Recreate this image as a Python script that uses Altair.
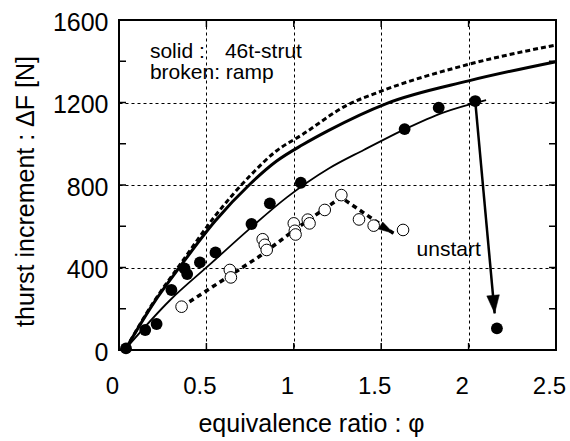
import altair as alt
import pandas as pd

# axis ticks
x_ticks = [0, 0.5, 1, 1.5, 2, 2.5]
y_ticks = [0, 400, 800, 1200, 1600]
x_inner_ticks = [0.5, 1, 1.5, 2]
y_inner_ticks = [200, 400, 600, 800, 1000, 1200, 1400]

# theoretical thrust curves
strut_phi = [0.04, 0.2, 0.35, 0.55, 0.75, 0.9, 1.05, 1.2, 1.53, 2.0, 2.5]
strut_F = [8, 230, 405, 625, 805, 915, 995, 1065, 1195, 1305, 1398]
ramp_phi = [0.04, 0.2, 0.35, 0.55, 0.75, 0.9, 1.05, 1.3, 1.5, 2.0, 2.5]
ramp_F = [8, 235, 415, 650, 845, 965, 1045, 1185, 1255, 1385, 1479]

# measured thrust, 46t-strut
strut_meas_phi = [0.04, 0.15, 0.215, 0.30, 0.375, 0.39, 0.463, 0.552, 0.758,
                  0.863, 1.04, 1.634, 1.829, 2.038, 2.162]
strut_meas_F = [8, 97, 126, 291, 395, 368, 425, 473, 611,
                711, 811, 1071, 1175, 1207, 105]

# fitted curve through the strut measurements
fit_phi = [0.04, 0.29, 0.52, 0.75, 0.96, 1.2, 1.4, 1.634, 1.85, 2.1]
fit_F = [8, 240, 415, 590, 740, 880, 970, 1070, 1150, 1212]

# measured thrust, ramp
ramp_meas_phi = [0.358, 0.634, 0.64, 0.822, 0.834, 0.845, 1.0, 1.006, 1.01,
                 1.08, 1.09, 1.177, 1.272, 1.373, 1.457, 1.625]
ramp_meas_F = [210, 388, 352, 537, 510, 485, 614, 578, 560,
               632, 614, 679, 751, 633, 603, 582]

# ramp trend, ending in an arrow
trend_phi = [0.36, 0.80, 1.03, 1.27, 1.57]
trend_F = [210, 452, 598, 740, 566]

# jump to unstart
unstart_phi = [2.038, 2.149]
unstart_F = [1207, 178]

W, H = 437, 330
FONT = "Liberation Sans"

x_enc = alt.X(
    "phi:Q",
    scale=alt.Scale(domain=[0, 2.5], nice=False, zero=False),
    axis=alt.Axis(
        values=x_ticks, format="~g", grid=True, ticks=False, tickSize=0,
        domain=False, labelPadding=24, labelOffset=-7, labelFontSize=24,
        labelBaseline="top", labelFlush=False,
        title="equivalence ratio : φ", titleFontSize=25, titleFontWeight="normal",
        titleX=192, titleY=81, titleAlign="center", titleBaseline="alphabetic",
    ),
)
y_enc = alt.Y(
    "F:Q",
    scale=alt.Scale(domain=[0, 1600], nice=False, zero=True),
    axis=alt.Axis(
        values=y_ticks, format="d", grid=True, ticks=False, tickSize=0,
        domain=False, labelPadding=11, labelFontSize=25, labelOffset=2,
        labelFlush=False,
        title="thurst increment : ΔF [N]", titleFontSize=25, titleFontWeight="normal",
        titleAngle=270, titleX=-94, titleY=171, titleAlign="center",
        titleBaseline="middle",
    ),
)


def frame(phi, F):
    return pd.DataFrame({"phi": phi, "F": F})


strut_line = alt.Chart(frame(strut_phi, strut_F)).mark_line(
    color="black", strokeWidth=3, interpolate="monotone"
).encode(x=x_enc, y=y_enc)

ramp_line = alt.Chart(frame(ramp_phi, ramp_F)).mark_line(
    color="black", strokeWidth=3, strokeDash=[5, 3], interpolate="monotone"
).encode(x=x_enc, y=y_enc)

fit_line = alt.Chart(frame(fit_phi, fit_F)).mark_line(
    color="black", strokeWidth=1.8, interpolate="monotone"
).encode(x=x_enc, y=y_enc)

trend_line = alt.Chart(frame(trend_phi, trend_F)).mark_line(
    color="black", strokeWidth=3.5, strokeDash=[5, 4]
).encode(x=x_enc, y=y_enc)

unstart_line = alt.Chart(frame(unstart_phi, unstart_F)).mark_line(
    color="black", strokeWidth=2.5
).encode(x=x_enc, y=y_enc)

trend_head = alt.Chart(frame(trend_phi[-1:], trend_F[-1:])).mark_point(
    shape="M0,0L0.55,2L-0.55,2Z", size=225, angle=121,
    filled=True, fill="black", stroke="black", strokeWidth=0.5, opacity=1
).encode(x=x_enc, y=y_enc)

unstart_head = alt.Chart(frame(unstart_phi[-1:], unstart_F[-1:])).mark_point(
    shape="M0,0L0.7,2L-0.7,2Z", size=324, angle=175,
    filled=True, fill="black", stroke="black", strokeWidth=0.5, opacity=1
).encode(x=x_enc, y=y_enc)

ramp_pts = alt.Chart(frame(ramp_meas_phi, ramp_meas_F)).mark_circle(
    size=135, fill="white", stroke="black", strokeWidth=1, opacity=1
).encode(x=x_enc, y=y_enc)

strut_pts = alt.Chart(frame(strut_meas_phi, strut_meas_F)).mark_circle(
    size=140, color="black", opacity=1
).encode(x=x_enc, y=y_enc)

# inward ticks on all four sides
left_ticks = alt.Chart(pd.DataFrame({"F": y_inner_ticks})).mark_rule(
    color="black", strokeWidth=1.5
).encode(y=y_enc, x=alt.value(0), x2=alt.value(7))
right_ticks = alt.Chart(pd.DataFrame({"F": y_inner_ticks})).mark_rule(
    color="black", strokeWidth=1.5
).encode(y=y_enc, x=alt.value(W - 7), x2=alt.value(W))
bottom_ticks = alt.Chart(pd.DataFrame({"phi": x_inner_ticks})).mark_rule(
    color="black", strokeWidth=1.5
).encode(x=x_enc, y=alt.value(H - 7), y2=alt.value(H))
top_ticks = alt.Chart(pd.DataFrame({"phi": x_inner_ticks})).mark_rule(
    color="black", strokeWidth=1.5
).encode(x=x_enc, y=alt.value(0), y2=alt.value(7))

# annotations
notes = pd.DataFrame({
    "phi": [0.177, 0.606, 0.177, 1.886],
    "F": [1446, 1446, 1341, 485],
    "label": ["solid :", "46t-strut", "broken: ramp", "unstart"],
})
note_text = alt.Chart(notes.iloc[:3]).mark_text(
    font=FONT, fontSize=21, align="left", baseline="middle", color="black"
).encode(x=x_enc, y=y_enc, text="label:N")
unstart_text = alt.Chart(notes.iloc[3:]).mark_text(
    font=FONT, fontSize=21, align="center", baseline="middle", color="black"
).encode(x=x_enc, y=y_enc, text="label:N")

chart = alt.layer(
    left_ticks, right_ticks, bottom_ticks, top_ticks,
    ramp_line, strut_line, fit_line, trend_line, unstart_line,
    ramp_pts, strut_pts, trend_head, unstart_head,
    note_text, unstart_text,
).properties(
    width=W, height=H,
    autosize=alt.AutoSizeParams(type="none"),
    padding={"left": 119, "top": 20, "right": 14, "bottom": 91},
    background="white",
).configure_view(
    stroke="black", strokeWidth=2
).configure_axis(
    gridColor="black", gridDash=[3, 3], gridWidth=1, gridOpacity=1,
    labelFont=FONT, titleFont=FONT, labelColor="black", titleColor="black",
)

chart.save("out.html", embed_options={"renderer": "svg", "actions": False})
